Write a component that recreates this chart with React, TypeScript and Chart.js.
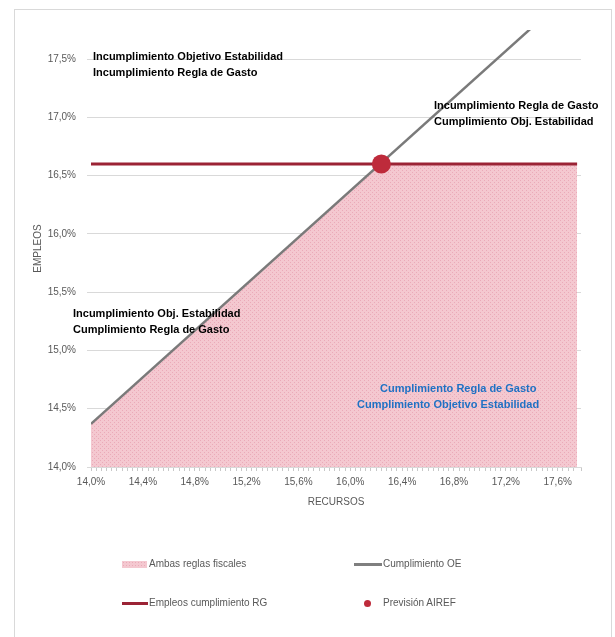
import { useEffect, useRef } from 'react';
import { Chart, registerables } from 'chart.js';

Chart.register(...registerables);

// boundary of the region where both fiscal rules are met
const areaRecursos = [14.0, 16.23, 17.75];
const areaEmpleos = [14.37, 16.6, 16.6];

// Cumplimiento OE (diagonal)
const oeRecursos = [14.0, 17.4];
const oeEmpleos = [14.37, 17.77];

// Empleos cumplimiento RG (horizontal)
const rgRecursos = [14.0, 17.75];
const rgEmpleos = [16.6, 16.6];

// Previsión AIREF
const airefRecursos = [16.24];
const airefEmpleos = [16.6];

const xLabelEvery = 0.4;
const xMinorStep = 0.04;
const yStep = 0.5;

const legendLabels = ['Ambas reglas fiscales', 'Cumplimiento OE', 'Empleos cumplimiento RG', 'Previsión AIREF'];

const annotations = [
  { lines: ['Incumplimiento Objetivo Estabilidad', 'Incumplimiento Regla de Gasto'], x: 93, y: 57, color: '#000000', dx: [0, 0] },
  { lines: ['Incumplimiento Regla de Gasto', 'Cumplimiento Obj. Estabilidad'], x: 434, y: 106, color: '#000000', dx: [0, 0] },
  { lines: ['Incumplimiento Obj. Estabilidad', 'Cumplimiento Regla de Gasto'], x: 73, y: 314, color: '#000000', dx: [0, 0] },
  { lines: ['Cumplimiento Regla de Gasto', 'Cumplimiento Objetivo Estabilidad'], x: 357, y: 389, color: '#1F71C4', dx: [23, 0] },
];

const FONT = "'Liberation Sans', Arial, sans-serif";
const fmt = (v: number, d: number) => v.toFixed(d).replace('.', ',') + '%';

function makePattern(): CanvasPattern | string {
  const c = document.createElement('canvas');
  c.width = 4;
  c.height = 4;
  const g = c.getContext('2d');
  if (!g) return '#F3C5CE';
  g.fillStyle = '#F4C8D0';
  g.fillRect(0, 0, 4, 4);
  g.fillStyle = '#EAAAB8';
  g.fillRect(0, 0, 1, 1);
  g.fillRect(2, 2, 1, 1);
  return g.createPattern(c, 'repeat') || '#F3C5CE';
}

const textPlugin = {
  id: 'regionText',
  afterDatasetsDraw(chart: Chart) {
    const ctx = chart.ctx;
    ctx.save();
    ctx.font = `bold 11px ${FONT}`;
    ctx.textBaseline = 'middle';
    ctx.textAlign = 'left';
    annotations.forEach((a) => {
      ctx.fillStyle = a.color;
      a.lines.forEach((line, i) => {
        ctx.fillText(line, a.x + a.dx[i], a.y + i * 16);
      });
    });
    ctx.restore();
  },
  beforeDraw(chart: Chart) {
    const ctx = chart.ctx;
    ctx.save();
    ctx.strokeStyle = '#D9D9D9';
    ctx.lineWidth = 1;
    ctx.strokeRect(14.5, 9.5, 597, 700);
    ctx.restore();
  },
};

export default function App() {
  const chartRef = useRef<HTMLCanvasElement>(null);
  const chartInstance = useRef<Chart | null>(null);

  useEffect(() => {
    if (!chartRef.current) return;
    if (chartInstance.current) chartInstance.current.destroy();
    const ctx = chartRef.current.getContext('2d');
    if (!ctx) return;

    const toPts = (xs: number[], ys: number[]) => xs.map((x, i) => ({ x, y: ys[i] }));

    chartInstance.current = new Chart(ctx, {
      type: 'scatter',
      data: {
        datasets: [
          {
            label: legendLabels[3],
            data: toPts(airefRecursos, airefEmpleos),
            backgroundColor: '#BE2B3B',
            borderWidth: 0,
            pointRadius: 9.5,
            order: 0,
          },
          {
            label: legendLabels[1],
            data: toPts(oeRecursos, oeEmpleos),
            showLine: true,
            borderColor: '#7A7A7A',
            borderWidth: 2.5,
            pointRadius: 0,
            order: 1,
          },
          {
            label: legendLabels[2],
            data: toPts(rgRecursos, rgEmpleos),
            showLine: true,
            borderColor: '#9B2335',
            borderWidth: 3,
            pointRadius: 0,
            order: 2,
          },
          {
            label: legendLabels[0],
            data: toPts(areaRecursos, areaEmpleos),
            showLine: true,
            fill: 'start',
            backgroundColor: makePattern() as any,
            borderWidth: 0,
            borderColor: 'transparent',
            pointRadius: 0,
            order: 3,
          },
        ],
      },
      options: {
        responsive: false,
        animation: false,
        layout: { padding: { left: 28, right: 34, top: 30, bottom: 120 } },
        plugins: {
          legend: { display: false },
          tooltip: { enabled: false },
        },
        scales: {
          x: {
            type: 'linear',
            min: 14,
            max: 17.78,
            afterFit: (scale: any) => {
              scale.height = 50;
            },
            border: { display: true, color: '#D9D9D9' },
            grid: { drawOnChartArea: false, drawTicks: true, tickLength: 4, color: '#C8C8C8' },
            ticks: {
              stepSize: xMinorStep,
              autoSkip: false,
              maxRotation: 0,
              padding: 5,
              color: '#595959',
              font: { family: FONT, size: 10 },
              callback: (v: any) => {
                const n = Math.round(Number(v) * 100);
                return n % Math.round(xLabelEvery * 100) === 0 ? fmt(Number(v), 1) : '';
              },
            },
            title: {
              display: true,
              text: 'RECURSOS',
              color: '#595959',
              font: { family: FONT, size: 10 },
              padding: { top: 0, bottom: 9 },
            },
          },
          y: {
            type: 'linear',
            min: 14,
            max: 17.75,
            afterFit: (scale: any) => {
              scale.width = 63;
            },
            border: { display: false },
            grid: {
              color: (c: any) => (c.tick && c.tick.value > 17.6 ? 'transparent' : '#D9D9D9'),
              tickLength: 4,
            },
            ticks: {
              stepSize: yStep,
              padding: 11,
              color: '#595959',
              font: { family: FONT, size: 10 },
              callback: (v: any) => (Number(v) > 17.6 ? '' : fmt(Number(v), 1)),
            },
            title: {
              display: true,
              text: 'EMPLEOS',
              color: '#595959',
              font: { family: FONT, size: 10 },
            },
          },
        },
      },
      plugins: [textPlugin],
    });

    return () => {
      if (chartInstance.current) {
        chartInstance.current.destroy();
        chartInstance.current = null;
      }
    };
  }, []);

  const legendText: React.CSSProperties = {
    position: 'absolute',
    fontFamily: FONT,
    fontSize: 10,
    color: '#595959',
    lineHeight: '12px',
    whiteSpace: 'nowrap',
  };

  return (
    <div style={{ position: 'absolute', left: 0, top: 0, width: 615, height: 637, background: '#fff' }}>
      <canvas ref={chartRef} width={615} height={637} style={{ display: 'block' }} />
      <div
        style={{
          position: 'absolute',
          left: 122,
          top: 561,
          width: 25,
          height: 7,
          backgroundColor: '#F4C8D0',
          backgroundImage: 'radial-gradient(#EAAAB8 0.6px, transparent 0.8px)',
          backgroundSize: '3px 3px',
        }}
      />
      <div style={{ ...legendText, left: 149, top: 558 }}>{legendLabels[0]}</div>
      <div style={{ position: 'absolute', left: 354, top: 563, width: 28, height: 3, background: '#7F7F7F' }} />
      <div style={{ ...legendText, left: 383, top: 558 }}>{legendLabels[1]}</div>
      <div style={{ position: 'absolute', left: 122, top: 602, width: 26, height: 3, background: '#9B2335' }} />
      <div style={{ ...legendText, left: 149, top: 597 }}>{legendLabels[2]}</div>
      <div
        style={{ position: 'absolute', left: 364, top: 600, width: 7, height: 7, borderRadius: '50%', background: '#BE2B3B' }}
      />
      <div style={{ ...legendText, left: 383, top: 597 }}>{legendLabels[3]}</div>
    </div>
  );
}
